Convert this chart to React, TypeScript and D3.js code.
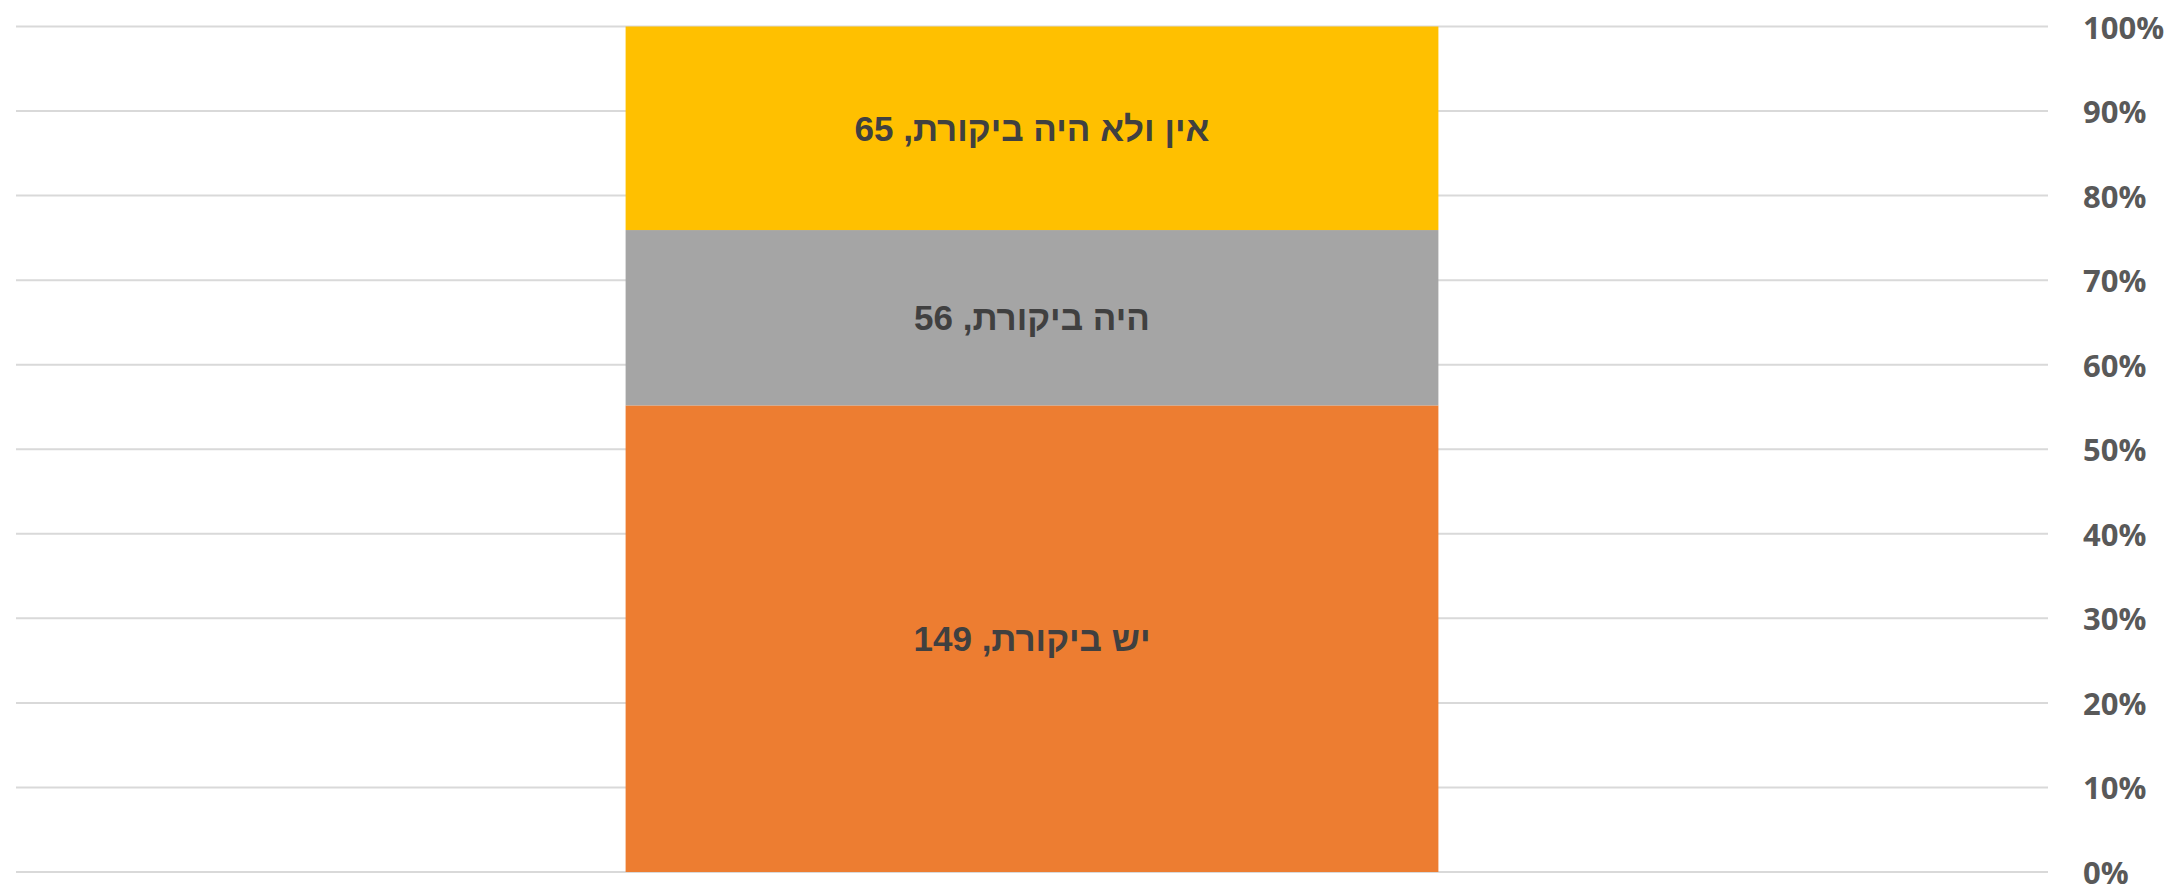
import React from "react";
import * as d3 from "d3";

const categories = ["סה\"כ"];
const seriesNames = ["יש ביקורת", "היה ביקורת", "אין ולא היה ביקורת"];
const seriesValues = [149, 56, 65];
const seriesColors = ["#ED7D31", "#A5A5A5", "#FFC000"];
const tickValues = [0, 0.1, 0.2, 0.3, 0.4, 0.5, 0.6, 0.7, 0.8, 0.9, 1];

const W = 2174;
const H = 888;

export default function App() {
  const y = d3.scaleLinear().domain([0, 1]).range([872, 26.5]);
  const x = d3
    .scaleBand<string>()
    .domain(categories)
    .range([16, 2048])
    .paddingInner(0.6)
    .paddingOuter(0.3);
  const total = d3.sum(seriesValues);
  const stacked: { name: string; v: number; y0: number; y1: number; color: string }[] = [];
  let acc = 0;
  seriesValues.forEach((v, i) => {
    stacked.push({ name: seriesNames[i], v, y0: acc / total, y1: (acc + v) / total, color: seriesColors[i] });
    acc += v;
  });
  const fmt = d3.format(".0%");
  const bx = x(categories[0]) as number;
  const bw = x.bandwidth();
  return (
    <svg
      width={W}
      height={H}
      style={{ position: "absolute", left: 0, top: 0, background: "#fff" }}
    >
      <g>
        {tickValues.map((t) => (
          <line key={t} x1={16} x2={2048} y1={y(t)} y2={y(t)} stroke="#D9D9D9" strokeWidth={2} />
        ))}
      </g>
      <g>
        {stacked.map((s) => (
          <rect key={s.name} x={bx} width={bw} y={y(s.y1)} height={y(s.y0) - y(s.y1)} fill={s.color} />
        ))}
      </g>
      <g>
        {stacked.map((s) => (
          <text
            key={s.name}
            x={bx + bw / 2}
            y={(y(s.y0) + y(s.y1)) / 2}
            textAnchor="middle"
            dominantBaseline="central"
            direction="rtl"
            fontFamily="'Liberation Sans', Arial, sans-serif"
            fontWeight="bold"
            fontSize={35}
            fill="#404040"
          >
            {`${s.name}, ${s.v}`}
          </text>
        ))}
      </g>
      <g>
        {tickValues.map((t) => (
          <text
            key={t}
            x={2083}
            y={y(t)}
            textAnchor="start"
            dominantBaseline="central"
            fontFamily="'Open Sans', sans-serif"
            fontWeight="bold"
            fontSize={31}
            fill="#595959"
          >
            {fmt(t)}
          </text>
        ))}
      </g>
    </svg>
  );
}
